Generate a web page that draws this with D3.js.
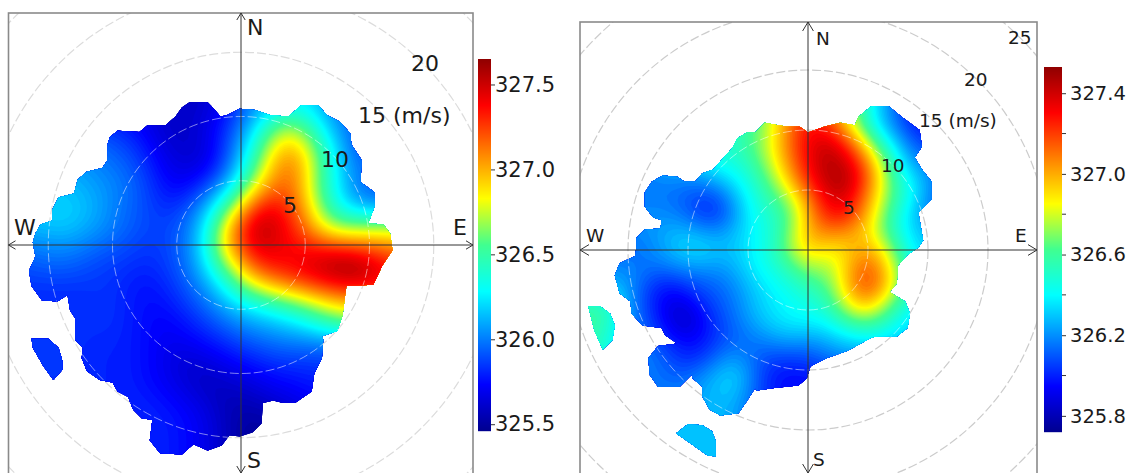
<!DOCTYPE html>
<html>
<head>
<meta charset="utf-8">
<title>Polar plots</title>
<script src="https://d3js.org/d3.v7.min.js"></script>
<style>
  body { margin: 0; background: #fff; }
  text { font-family: "DejaVu Sans", sans-serif; fill: #1a1a1a; }
</style>
</head>
<body>
<svg id="chart" width="1127" height="473"></svg>
<script>
// wind speed rings (m/s)
var ringsA = [5, 10, 15, 20, 25];
var ringsB = [5, 10, 15, 20, 25, 30];

// colour bar ticks
var ticksA = [325.5, 326.0, 326.5, 327.0, 327.5];
var ticksB = [325.8, 326.2, 326.6, 327.0, 327.4];
var minorTicksB = [326.0, 326.4, 326.8, 327.2];
var rangeA = [325.46, 327.65];
var rangeB = [325.72, 327.53];

// grid positions of the values below (u east, v north, m/s)
var uGridA = [-18,-16.5,-15,-13.5,-12,-10.5,-9,-7.5,-6,-4.5,-3,-1.5,0,1.5,3,4.5,6,7.5,9,10.5,12,13.5];
var vGridA = [12,10.5,9,7.5,6,4.5,3,1.5,0,-1.5,-3,-4.5,-6,-7.5,-9,-10.5,-12,-13.5,-15,-16.5,-18];
var uGridB = [-19.5,-18,-16.5,-15,-13.5,-12,-10.5,-9,-7.5,-6,-4.5,-3,-1.5,0,1.5,3,4.5,6,7.5,9,10.5,12];
var vGridB = [13.5,12,10.5,9,7.5,6,4.5,3,1.5,0,-1.5,-3,-4.5,-6,-7.5,-9,-10.5,-12,-13.5,-15,-16.5,-18];

// theta values, left plot, one row per v
var valuesA = [
[325.7,325.7,325.7,325.7,325.7,325.7, 325.7,325.7,325.6,325.6,325.6,325.7, 325.9,326.1,326.2,326.25,326.15,326.0, 325.9,325.9,325.9,325.9],
[325.7,325.7,325.7,325.7,325.7,325.7, 325.7,325.7,325.6,325.6,325.6,325.7, 325.9,326.1,326.25,326.3,326.15,326.0, 325.9,325.9,325.9,325.9],
[325.9,325.9,325.9,325.9,325.9,325.85, 325.8,325.7,325.6,325.6,325.65,325.8, 326.0,326.35,326.75,326.75,326.35,326.05, 325.95,325.9,325.9,325.9],
[326.0,326.0,326.0,326.0,326.0,325.95, 325.9,325.8,325.65,325.6,325.6,325.8, 326.1,326.55,327.0,327.0,326.55,326.2, 325.85,325.85,325.85,325.85],
[326.1,326.1,326.1,326.1,326.05,326.0, 325.95,325.85,325.7,325.65,325.65,325.85, 326.2,326.7,327.15,327.15,326.6,326.25, 326.0,326.0,326.0,326.0],
[326.15,326.15,326.15,326.15,326.1,326.05, 326.0,325.9,325.75,325.7,325.85,326.05, 326.45,326.95,327.2,327.1,326.55,326.25, 325.95,325.9,325.9,325.9],
[326.2,326.2,326.2,326.2,326.15,326.05, 325.95,325.9,325.8,325.85,326.05,326.4, 326.9,327.4,327.4,327.15,326.7,326.3, 326.1,326.0,326.0,326.0],
[326.15,326.15,326.15,326.2,326.1,326.05, 325.95,325.9,325.85,325.95,326.15,326.75, 327.3,327.65,327.45,327.25,326.85,326.6, 326.65,326.7,326.7,326.7],
[326.0,326.0,326.05,326.05,326.0,325.95, 325.9,325.85,325.85,325.95,326.2,326.85, 327.3,327.55,327.4,327.35,327.3,327.2, 327.15,327.1,327.05,327.05],
[325.9,325.9,325.95,325.95,325.9,325.85, 325.85,325.8,325.85,325.95,326.15,326.6, 327.0,327.35,327.4,327.45,327.55,327.7, 327.7,327.5,327.3,327.3],
[325.85,325.85,325.85,325.85,325.85,325.85, 325.8,325.75,325.8,325.9,326.05,326.25, 326.65,326.95,327.1,327.25,327.35,327.4, 327.45,327.4,327.4,327.4],
[325.8,325.8,325.8,325.8,325.8,325.85, 325.8,325.75,325.75,325.85,325.95,326.1, 326.25,326.35,326.5,326.6,326.8,326.95, 327.0,327.0,327.0,327.0],
[325.85,325.85,325.85,325.85,325.85,325.85, 325.8,325.75,325.7,325.75,325.85,325.95, 326.05,326.1,326.15,326.25,326.4,326.55, 326.6,326.6,326.6,326.6],
[325.85,325.85,325.85,325.85,325.8,325.8, 325.8,325.75,325.7,325.7,325.75,325.8, 325.9,325.95,326.0,326.0,326.0,326.05, 326.05,326.05,326.05,326.05],
[325.85,325.85,325.85,325.85,325.8,325.8, 325.8,325.75,325.7,325.6,325.65,325.7, 325.75,325.8,325.85,325.85,325.85,325.85, 325.85,325.85,325.85,325.85],
[325.85,325.85,325.85,325.85,325.8,325.8, 325.8,325.75,325.7,325.65,325.55,325.6, 325.65,325.7,325.75,325.75,325.8,325.8, 325.8,325.8,325.8,325.8],
[325.8,325.8,325.8,325.8,325.8,325.8, 325.8,325.8,325.75,325.7,325.65,325.55, 325.55,325.6,325.65,325.7,325.75,325.75, 325.75,325.75,325.75,325.75],
[325.8,325.8,325.8,325.8,325.8,325.8, 325.8,325.8,325.8,325.75,325.7,325.6, 325.5,325.5,325.55,325.6,325.65,325.65, 325.65,325.65,325.65,325.65],
[325.8,325.8,325.8,325.8,325.8,325.8, 325.8,325.8,325.8,325.75,325.7,325.6, 325.5,325.5,325.5,325.55,325.6,325.6, 325.6,325.6,325.6,325.6],
[325.8,325.8,325.8,325.8,325.8,325.8, 325.8,325.8,325.8,325.75,325.7,325.6, 325.5,325.5,325.5,325.55,325.6,325.6, 325.6,325.6,325.6,325.6],
[325.8,325.8,325.8,325.8,325.8,325.8, 325.8,325.8,325.8,325.75,325.7,325.6, 325.5,325.5,325.5,325.55,325.6,325.6, 325.6,325.6,325.6,325.6]
];

// theta values, right plot
var valuesB = [
[326.3,326.3,326.3,326.3,326.3,326.3, 326.3,326.3,326.4,326.5,326.6,326.8, 327.1,327.3,327.2,326.95,326.55,326.3, 326.1,325.95,325.95,325.95],
[326.3,326.3,326.3,326.3,326.3,326.3, 326.3,326.3,326.4,326.5,326.6,326.8, 327.1,327.3,327.2,326.95,326.55,326.3, 326.1,325.95,325.95,325.95],
[326.3,326.3,326.3,326.3,326.3,326.3, 326.3,326.3,326.4,326.5,326.6,326.8, 327.1,327.3,327.2,326.95,326.55,326.3, 326.1,325.95,325.95,325.95],
[326.3,326.3,326.3,326.3,326.3,326.3, 326.3,326.4,326.5,326.55,326.65,326.85, 327.15,327.35,327.45,327.3,326.95,326.5, 326.3,326.05,326.05,326.05],
[326.2,326.2,326.2,326.2,326.2,326.3, 326.3,326.4,326.5,326.45,326.6,326.8, 327.1,327.3,327.5,327.4,327.2,326.8, 326.4,326.15,326.15,326.15],
[326.15,326.15,326.15,326.15,326.15,326.2, 326.2,326.2,326.3,326.4,326.5,326.7, 327.0,327.3,327.45,327.55,327.3,326.9, 326.5,326.35,326.15,326.15],
[326.15,326.15,326.15,326.15,326.15,326.15, 326.1,326.05,326.05,326.3,326.45,326.6, 326.75,327.1,327.35,327.45,327.15,326.85, 326.55,326.4,326.1,326.1],
[326.2,326.2,326.2,326.2,326.2,326.2, 326.15,326.0,325.98,326.2,326.45,326.5, 326.6,327.0,327.3,327.35,327.1,326.75, 326.45,326.25,326.1,326.1],
[326.2,326.2,326.2,326.2,326.2,326.25, 326.3,326.25,326.2,326.3,326.4,326.45, 326.7,327.0,327.1,327.05,326.95,326.7, 326.45,326.3,326.3,326.3],
[326.1,326.1,326.1,326.1,326.15,326.25, 326.35,326.4,326.3,326.3,326.4,326.5, 326.75,327.0,326.85,326.85,327.05,326.95, 326.6,326.3,326.3,326.3],
[326.2,326.2,326.2,326.2,326.15,326.15, 326.2,326.2,326.2,326.25,326.4,326.45, 326.55,326.75,326.7,326.9,327.2,327.1, 326.7,326.4,326.4,326.4],
[326.25,326.25,326.25,326.25,326.05,325.95, 326.0,326.1,326.1,326.2,326.3,326.4, 326.45,326.55,326.6,326.9,327.25,327.15, 326.75,326.45,326.45,326.45],
[326.6,326.6,326.6,326.2,326.05,325.9, 325.85,326.0,326.1,326.15,326.3,326.35, 326.4,326.45,326.5,326.8,327.05,326.85, 326.55,326.4,326.4,326.4],
[326.6,326.6,326.55,326.2,326.1,325.95, 325.75,325.9,326.05,326.15,326.25,326.35, 326.4,326.4,326.4,326.55,326.65,326.6, 326.4,326.3,326.3,326.3],
[326.55,326.55,326.5,326.2,326.1,326.05, 325.95,325.95,326.05,326.1,326.15,326.2, 326.25,326.2,326.25,326.3,326.35,326.35, 326.3,326.3,326.3,326.3],
[326.5,326.5,326.5,326.2,326.2,326.1, 326.0,326.0,326.15,326.25,326.1,326.05, 326.05,326.05,326.15,326.2,326.2,326.2, 326.2,326.2,326.2,326.2],
[326.3,326.3,326.3,326.2,326.15,326.15, 326.1,326.2,326.3,326.38,326.15,325.95, 325.95,325.95,326.0,326.0,326.0,326.0, 326.0,326.0,326.0,326.0],
[326.3,326.3,326.3,326.2,326.15,326.15, 326.15,326.25,326.3,326.3,326.1,326.0, 325.95,325.95,325.95,325.95,325.95,325.95, 325.95,325.95,325.95,325.95],
[326.3,326.3,326.3,326.3,326.3,326.3, 326.25,326.25,326.25,326.25,326.1,326.0, 325.95,325.95,325.95,325.95,325.95,325.95, 325.95,325.95,325.95,325.95],
[326.3,326.3,326.3,326.3,326.3,326.3, 326.3,326.3,326.3,326.25,326.1,326.0, 325.95,325.95,325.95,325.95,325.95,325.95, 325.95,325.95,325.95,325.95],
[326.3,326.3,326.3,326.3,326.3,326.3, 326.3,326.3,326.3,326.25,326.1,326.0, 325.95,325.95,325.95,325.95,325.95,325.95, 325.95,325.95,325.95,325.95],
[326.3,326.3,326.3,326.3,326.3,326.3, 326.3,326.3,326.3,326.25,326.1,326.0, 325.95,325.95,325.95,325.95,325.95,325.95, 325.95,325.95,325.95,325.95]
];

// edges of the sampled area [u, v]
var outlineA = [[-0.1,10.6],[-1.1,10.1],[-1.6,10],[-2.2,10.7],[-2.6,11.1],[-4,11.1],[-4.6,10.7],[-5.1,10],[-5.9,9.3],[-7.3,9.3],[-7.9,8.8],[-9.6,8.9],[-10.2,8.4],[-10.4,7.8],[-10.4,6.6],[-10.8,6],[-12,5.7],[-12.7,5.1],[-13,4],[-14.2,3.7],[-14.7,2.7],[-14.7,1.9],[-15.6,1.6],[-16,0.9],[-16.2,0.2],[-16,-0.9],[-16.5,-2],[-16.3,-3.2],[-15.5,-4.3],[-14.3,-4.4],[-13.5,-3.9],[-13.3,-5.1],[-12.9,-5.7],[-12.9,-7.4],[-12.3,-8],[-12.4,-8.8],[-12,-9.8],[-11,-10.5],[-10,-10.7],[-9.6,-11.4],[-8.8,-11.8],[-8.4,-12.8],[-7.7,-13.5],[-6.9,-13.6],[-7.1,-15.2],[-6.3,-16.2],[-4.6,-16.3],[-3.7,-15.5],[-2.6,-16],[-1.5,-15.6],[-0.9,-14.8],[-0.1,-14.9],[0.9,-14.6],[1.6,-13.9],[1.7,-12.3],[2.5,-12.1],[3.3,-12.3],[4.2,-12.3],[5.5,-11.4],[5.7,-10],[6.3,-8.8],[6.4,-7.4],[6.3,-7.1],[7.5,-6.7],[7.9,-5.5],[8.2,-3.2],[10.3,-3.1],[11,-1.6],[11.8,-0.4],[11.6,0.9],[11.1,1.6],[9.9,1.7],[10.4,3],[10.4,4.1],[9.3,4.9],[9.4,6.6],[8.6,7.8],[8.5,8.7],[7.7,9.6],[6.7,10.1],[6,10.9],[4.7,10.9],[3.7,10],[2.3,10.1],[1.1,10.5]];
var islandA = [[-16.3,-7.3],[-15,-7.3],[-14.2,-8],[-13.9,-9],[-13.9,-9.7],[-14.6,-10.5],[-15.4,-9.4],[-16.2,-8]];
var outlineB = [[0,9.8],[-0.7,10.3],[-1.8,10.3],[-2.5,10.4],[-3.6,10.6],[-4.4,9.8],[-5.1,9.8],[-5.9,9.3],[-6.3,8.5],[-7.2,7.5],[-7.9,6.7],[-8.8,6.4],[-9.4,5.7],[-10.3,5.7],[-10.9,6.1],[-12.1,6.2],[-13,5.7],[-13.6,4.8],[-13.6,3.6],[-12.9,2.7],[-12.2,2.5],[-12.3,1.8],[-13.6,1.7],[-14.3,1],[-14.3,0.3],[-14.4,-0.5],[-15.7,-1.1],[-16.1,-2.1],[-15.7,-3.6],[-14.8,-4.3],[-14.7,-5.3],[-13.8,-6.3],[-12.2,-6.5],[-11.9,-7.1],[-10.9,-7.8],[-12.5,-8],[-13.3,-9],[-13.2,-10.4],[-12.5,-11.4],[-10.7,-11.4],[-9.7,-10.4],[-9.6,-10.7],[-8.8,-11.4],[-8.8,-12.2],[-8.2,-13.3],[-7.3,-13.8],[-5.8,-13.6],[-5.1,-12.6],[-4.4,-11.5],[-4.3,-11.7],[-2.8,-11.5],[-0.8,-11.3],[-0.1,-10.7],[0.2,-9.7],[1.6,-9],[3.3,-8.4],[5.3,-7.3],[5.8,-7.2],[7.4,-7.2],[8.3,-6.5],[8.5,-5.3],[8.1,-4.3],[6.8,-3.5],[7.4,-2.8],[7.5,-1.3],[8.3,-0.4],[9.2,0.2],[9.6,0.8],[9.2,3.1],[10.3,4.2],[10.3,5.7],[9.5,6.7],[8.9,7.7],[9.5,8.6],[9.3,10],[7.8,11.1],[6.7,12],[5.3,12],[4.2,11.1],[3.9,10.4],[2.7,10.6],[1.4,10.3]];
var islandB1 = [[-18.3,-4.7],[-17.3,-4.7],[-16.5,-5.3],[-16.1,-6.3],[-16.3,-7.5],[-17.1,-8.3],[-17.8,-6.7]];
var islandB2 = [[-11,-15.3],[-10,-14.5],[-8.8,-14.6],[-8,-15.1],[-7.7,-15.9],[-7.7,-17.2],[-8.4,-17.1],[-10.1,-15.9]];

var jetStops = [0, 0.125, 0.25, 0.375, 0.5, 0.625, 0.75, 0.875, 1];
var jetColors = ["#00008f", "#0000ff", "#0080ff", "#00ffff", "#40ff90", "#ffff00", "#ff8000", "#ff0000", "#8f0000"];

var svg = d3.select("#chart");

function jet(range) {
  return d3.scaleLinear()
    .domain(jetStops.map(function(s) { return range[0] + s * (range[1] - range[0]); }))
    .range(jetColors)
    .clamp(true);
}

// sample the value table onto a finer raster, then contour that
function fineField(values, k, blur) {
  var rows = values.length, cols = values[0].length;
  var w = (cols - 1) * k + 1, h = (rows - 1) * k + 1;
  var data = new Float64Array(w * h);
  for (var j = 0; j < h; j++) {
    var r = Math.min(Math.floor(j / k), rows - 2), fy = j / k - r;
    for (var i = 0; i < w; i++) {
      var c = Math.min(Math.floor(i / k), cols - 2), fx = i / k - c;
      data[j * w + i] = d3.interpolate(
        d3.interpolate(values[r][c], values[r][c + 1])(fx),
        d3.interpolate(values[r + 1][c], values[r + 1][c + 1])(fx))(fy);
    }
  }
  d3.blur2({data: data, width: w, height: h}, blur);
  return {data: data, width: w, height: h};
}

function drawPanel(p) {
  var x = d3.scaleLinear().domain([0, 1]).range([p.cx, p.cx + p.pxPerMs]);
  var y = d3.scaleLinear().domain([0, 1]).range([p.cy, p.cy - p.pxPerMs]);
  var color = jet(p.range);
  var g = svg.append("g");

  var frameClip = p.id + "-frame", dataClip = p.id + "-data";
  svg.append("clipPath").attr("id", frameClip).append("rect")
    .attr("x", p.frame[0]).attr("y", p.frame[1])
    .attr("width", p.frame[2] - p.frame[0]).attr("height", p.frame[3] - p.frame[1]);

  // rings under the data
  g.append("g").attr("clip-path", "url(#" + frameClip + ")")
    .selectAll("circle").data(p.rings).enter().append("circle")
    .attr("cx", x(0)).attr("cy", y(0))
    .attr("r", function(d) { return x(d) - x(0); })
    .attr("fill", "none").attr("stroke", p.ringColor)
    .attr("stroke-width", 1.2).attr("stroke-dasharray", "9,3");

  var outline = d3.line()
    .x(function(d) { return x(d[0]); })
    .y(function(d) { return y(d[1]); })
    .curve(d3.curveLinearClosed);
  var cp = svg.append("clipPath").attr("id", dataClip);
  p.shapes.forEach(function(s) { cp.append("path").attr("d", outline(s)); });

  var k = 4;
  var field = fineField(p.values, k, 2);
  var levels = d3.range(p.range[0], p.range[1] + 0.02, 0.02);
  var contours = d3.contours().size([field.width, field.height]).thresholds(levels)(field.data);
  var stepU = (p.uGrid[1] - p.uGrid[0]) / k, stepV = (p.vGrid[1] - p.vGrid[0]) / k;
  var path = d3.geoPath(d3.geoTransform({
    point: function(cx, cy) {
      this.stream.point(x(p.uGrid[0] + (cx - 0.5) * stepU), y(p.vGrid[0] + (cy - 0.5) * stepV));
    }
  }));

  var heat = g.append("g").attr("clip-path", "url(#" + dataClip + ")");
  heat.append("g").selectAll("path").data(contours).enter().append("path")
    .attr("d", path)
    .attr("fill", function(d) { return color(d.value + 0.01); });
  // rings show white over the colours
  heat.append("g").selectAll("circle").data(p.rings).enter().append("circle")
    .attr("cx", x(0)).attr("cy", y(0))
    .attr("r", function(d) { return x(d) - x(0); })
    .attr("fill", "none").attr("stroke", "#fff").attr("stroke-opacity", 0.5)
    .attr("stroke-width", 1).attr("stroke-dasharray", "9,3");

  // frame
  g.append("rect")
    .attr("x", p.frame[0]).attr("y", p.frame[1])
    .attr("width", p.frame[2] - p.frame[0]).attr("height", p.frame[3] - p.frame[1] + 10)
    .attr("fill", "none").attr("stroke", "#8a8a8a").attr("stroke-width", 1.6);

  // compass axes with open arrow heads
  var axes = g.append("g").attr("stroke", "#333").attr("stroke-width", 1).attr("fill", "none");
  var l = p.frame[0], r = p.frame[2], t = p.frame[1], b = p.frame[3];
  axes.append("path").attr("d", "M" + l + "," + y(0) + "H" + r);
  axes.append("path").attr("d", "M" + x(0) + "," + t + "V" + b);
  var ah = p.arrow;
  axes.append("path").attr("d", "M" + (l + ah) + "," + (y(0) - ah * 0.6) + "L" + l + "," + y(0) + "L" + (l + ah) + "," + (y(0) + ah * 0.6));
  axes.append("path").attr("d", "M" + (r - ah) + "," + (y(0) - ah * 0.6) + "L" + r + "," + y(0) + "L" + (r - ah) + "," + (y(0) + ah * 0.6));
  axes.append("path").attr("d", "M" + (x(0) - ah * 0.6) + "," + (t + ah) + "L" + x(0) + "," + t + "L" + (x(0) + ah * 0.6) + "," + (t + ah));
  axes.append("path").attr("d", "M" + (x(0) - ah * 0.6) + "," + (b - ah) + "L" + x(0) + "," + b + "L" + (x(0) + ah * 0.6) + "," + (b - ah));

  // labels
  g.append("g").selectAll("text").data(p.labels).enter().append("text")
    .attr("x", function(d) { return d[1]; })
    .attr("y", function(d) { return d[2]; })
    .style("font-size", p.labelSize + "px")
    .text(function(d) { return d[0]; });

  // colour bar
  var bar = p.bar;
  var by = d3.scaleLinear().domain(p.range).range([bar.y1, bar.y0]);
  var barVals = d3.range(bar.y0, bar.y1, 1).map(function(py) { return by.invert(py + 0.5); });
  var bg = svg.append("g");
  bg.selectAll("rect").data(barVals).enter().append("rect")
    .attr("x", bar.x).attr("width", bar.w)
    .attr("y", function(d) { return by(d) - 0.5; }).attr("height", 1.2)
    .attr("fill", function(d) { return color(d); });
  var axis = d3.axisRight(by).tickValues(p.ticks).tickFormat(d3.format(".1f")).tickSize(4).tickPadding(bar.pad);
  var ag = bg.append("g").attr("transform", "translate(" + (bar.x + bar.w) + ",0)").call(axis);
  ag.select(".domain").remove();
  ag.selectAll("text").style("font-size", bar.font + "px");
  ag.selectAll("line").attr("stroke", "#333");
  if (p.minor) {
    bg.selectAll("line.minor").data(p.minor).enter().append("line").attr("class", "minor")
      .attr("x1", bar.x + bar.w).attr("x2", bar.x + bar.w + 4)
      .attr("y1", function(d) { return by(d); }).attr("y2", function(d) { return by(d); })
      .attr("stroke", "#333");
  }
}

drawPanel({
  id: "a", cx: 241, cy: 245, pxPerMs: 12.85, frame: [8.5, 13, 473, 473], arrow: 7,
  rings: ringsA, ringColor: "#dcdcdc", range: rangeA, ticks: ticksA,
  uGrid: uGridA, vGrid: vGridA, values: valuesA, shapes: [outlineA, islandA],
  labelSize: 22,
  labels: [["N", 247, 35], ["W", 14, 235], ["E", 453, 235], ["S", 247, 467.5], ["5", 283, 213], ["10", 321, 167], ["15 (m/s)", 358, 123], ["20", 411, 71]],
  bar: {x: 478, w: 13, y0: 59, y1: 431, font: 21, pad: 0}
});

drawPanel({
  id: "b", cx: 808, cy: 250, pxPerMs: 12, frame: [580, 22, 1037, 473], arrow: 9,
  rings: ringsB, ringColor: "#cccccc", range: rangeB, ticks: ticksB, minor: minorTicksB,
  uGrid: uGridB, vGrid: vGridB, values: valuesB, shapes: [outlineB, islandB1, islandB2],
  labelSize: 18.5,
  labels: [["N", 816, 45], ["W", 586, 242], ["E", 1015, 242], ["S", 813, 466], ["5", 843, 214], ["10", 881, 172], ["15 (m/s)", 919, 127], ["20", 964, 86], ["25", 1008, 44]],
  bar: {x: 1044, w: 18, y0: 67, y1: 432, font: 19.5, pad: 4}
});
</script>
</body>
</html>
